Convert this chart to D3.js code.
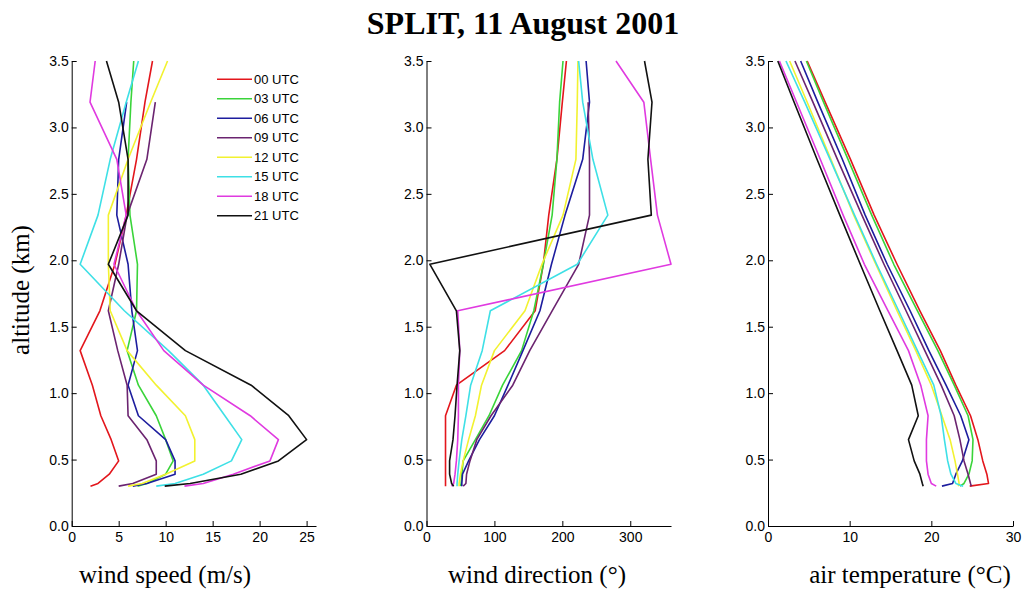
<!DOCTYPE html>
<html>
<head>
<meta charset="utf-8">
<script src="https://cdn.jsdelivr.net/npm/d3@7"></script>
<style>
  body { margin: 0; background: #fff; }
  svg { display: block; }
</style>
</head>
<body>
<div id="app"></div>
<script>
// altitude levels of the soundings (km)
const altitude = [0.30, 0.32, 0.39, 0.49, 0.65, 0.83, 1.06, 1.32, 1.62, 1.97, 2.34, 2.76, 3.19, 3.50];

const times = ["00 UTC", "03 UTC", "06 UTC", "09 UTC", "12 UTC", "15 UTC", "18 UTC", "21 UTC"];
const colors = ["#e3161c", "#3ad43a", "#1d1d9e", "#6b2470", "#f2f230", "#3ee0e6", "#e03ae0", "#111111"];

// wind speed (m/s), one row per sounding time
const windSpeed = [
  [2.0, 2.8, 4.0, 5.0, 4.2, 3.1, 2.2, 0.9, 3.0, 4.6, 5.8, 6.9, 7.8, 8.6],
  [7.0, 8.0, 10.0, 10.8, 10.0, 9.0, 7.1, 5.9, 6.9, 7.0, 6.2, 6.0, 6.3, 6.6],
  [6.5, 8.0, 11.0, 11.0, 10.0, 7.1, 6.0, 7.0, 6.4, 6.0, 4.8, 5.0, 5.85, null],
  [5.0, 6.5, 9.0, 9.0, 8.0, 6.0, 5.9, 4.9, 3.9, 5.0, 5.9, 8.0, 8.9, null],
  [6.0, 7.5, 10.0, 13.1, 13.1, 12.1, 9.0, 5.9, 4.1, 3.9, 3.9, 6.0, 8.4, 10.2],
  [9.0, 11.0, 14.0, 17.0, 18.1, 16.3, 14.0, 10.3, 5.6, 0.9, 2.8, 4.1, 5.8, 7.1],
  [12.0, 14.0, 17.2, 21.1, 22.0, 19.0, 14.0, 9.8, 6.9, 4.5, 5.8, 4.8, 1.95, 2.5],
  [9.9, 12.6, 18.0, 22.0, 25.0, 23.1, 19.1, 12.1, 6.9, 3.9, 6.0, 6.0, 5.0, 3.7]
];

// wind direction (deg)
const windDir = [
  [28, 28, 28, 28, 28, 28, 44, 115, 160, 172, 180, 192, 200, 206],
  [50, 51, 52, 54, 72, 92, 112, 140, 158, 172, 185, 192, 196, 201],
  [52, 52, 53, 62, 78, 100, 120, 142, 167, 184, 204, 230, 240, 235],
  [54, 58, 59, 64, 74, 95, 127, 152, 185, 224, 240, 240, 238, null],
  [48, 48, 50, 54, 62, 72, 81, 100, 145, 170, 201, 220, 222, 223],
  [45, 45, 46, 48, 52, 58, 65, 82, 94, 222, 267, 245, 230, 224],
  [37, 40, 42, 44, 46, 47, 47, 49, 46, 360, 340, 330, 320, 279],
  [40, 37, 34, 34, 39, 42, 45, 49, 44, 5, 331, 326, 332, 321]
];

// air temperature (deg C)
const airTemp = [
  [24.7, 27.0, 26.8, 26.3, 25.7, 24.8, 23.0, 21.1, 18.6, 15.8, 13.0, 10.1, 7.0, 4.8],
  [23.5, 24.0, 24.6, 25.0, 25.1, 24.5, 22.8, 20.8, 18.3, 15.4, 12.7, 9.8, 6.8, 4.7],
  [21.3, 22.6, 23.0, 23.8, 24.6, 23.6, 21.8, 19.7, 17.4, 14.6, 11.9, 9.1, 6.1, 4.0],
  [24.9, 24.8, 24.5, 24.0, 23.5, 22.8, 21.2, 19.2, 16.9, 14.2, 11.5, 8.5, 5.5, 3.3],
  [23.3, 23.4, 23.2, 22.9, 22.3, 21.3, 20.0, 18.1, 15.8, 13.2, 10.5, 7.7, 4.8, 2.65],
  [23.9, 23.0, 22.4, 22.0, 21.6, 21.2, 20.3, 18.3, 16.0, 13.3, 10.6, 7.6, 4.5, 2.2],
  [20.6, 20.0, 19.6, 19.4, 19.4, 19.6, 18.7, 17.2, 14.7, 11.8, 9.2, 6.4, 3.5, 1.4],
  [19.0, 18.9, 18.6, 17.9, 17.2, 18.4, 17.6, 15.8, 13.7, 11.3, 8.8, 6.0, 3.2, 1.2]
];

const speedTicks = [0, 5, 10, 15, 20, 25];
const dirTicks = [0, 100, 200, 300];
const tempTicks = [0, 10, 20, 30];
const altTicks = [0, 0.5, 1, 1.5, 2, 2.5, 3, 3.5];

const width = 1025;
const height = 589;

const svg = d3.select("#app")
  .append("svg")
  .attr("width", width)
  .attr("height", height);

const yScale = d3.scaleLinear().domain([0, 3.5]).range([526, 61]);

const panels = [
  { data: windSpeed, domain: [0, 26], range: [71.7, 316], ticks: speedTicks, title: "wind speed (m/s)", tx: 165 },
  { data: windDir, domain: [0, 360], range: [426.5, 671], ticks: dirTicks, title: "wind direction (°)", tx: 537 },
  { data: airTemp, domain: [0, 30], range: [768, 1013], ticks: tempTicks, title: "air temperature (°C)", tx: 910 }
];

const tickFont = "'Liberation Sans', Arial, sans-serif";
const serif = "'Liberation Serif', 'Times New Roman', serif";

panels.forEach((p) => {
  const x = d3.scaleLinear().domain(p.domain).range(p.range);

  const line = d3.line()
    .defined((d) => d[0] != null)
    .x((d) => x(d[0]))
    .y((d) => yScale(d[1]));

  // profiles
  svg.append("g")
    .selectAll("path")
    .data(p.data)
    .enter()
    .append("path")
    .attr("d", (row) => line(row.map((v, i) => [v, altitude[i]])))
    .attr("fill", "none")
    .attr("stroke", (d, i) => colors[i])
    .attr("stroke-width", 1.6)
    .attr("stroke-linejoin", "round");

  // axes, ticks pointing inward
  const gx = svg.append("g")
    .attr("transform", `translate(0, ${yScale(0)})`)
    .call(d3.axisBottom(x).tickValues(p.ticks).tickSize(-5).tickSizeOuter(0).tickPadding(6));

  const gy = svg.append("g")
    .attr("transform", `translate(${p.range[0]}, 0)`)
    .call(d3.axisLeft(yScale).tickValues(altTicks).tickFormat(d3.format(".1f"))
      .tickSize(-5).tickSizeOuter(0).tickPadding(3));

  [gx, gy].forEach((g) => {
    g.attr("font-family", tickFont).attr("font-size", 14);
    g.selectAll("line, path").attr("stroke", "#000").attr("stroke-width", 1);
    g.selectAll("text").attr("fill", "#000");
  });

  // x title
  svg.append("text")
    .attr("x", p.tx)
    .attr("y", 583)
    .attr("text-anchor", "middle")
    .attr("font-family", serif)
    .attr("font-size", 25)
    .text(p.title);
});

// y title
svg.append("text")
  .attr("transform", "translate(29, 290) rotate(-90)")
  .attr("text-anchor", "middle")
  .attr("font-family", serif)
  .attr("font-size", 25)
  .text("altitude (km)");

// chart title
svg.append("text")
  .attr("x", 523)
  .attr("y", 34)
  .attr("text-anchor", "middle")
  .attr("font-family", serif)
  .attr("font-weight", "bold")
  .attr("font-size", 32)
  .text("SPLIT, 11 August 2001");

// legend
const legend = svg.append("g").attr("font-family", tickFont).attr("font-size", 13);
legend.selectAll("line")
  .data(times)
  .enter()
  .append("line")
  .attr("x1", 217)
  .attr("x2", 252)
  .attr("y1", (d, i) => 79.3 + i * 19.5)
  .attr("y2", (d, i) => 79.3 + i * 19.5)
  .attr("stroke", (d, i) => colors[i])
  .attr("stroke-width", 1.6);

legend.selectAll("text")
  .data(times)
  .enter()
  .append("text")
  .attr("x", 254)
  .attr("y", (d, i) => 79.3 + i * 19.5)
  .attr("dy", "0.36em")
  .text((d) => d);
</script>
</body>
</html>
